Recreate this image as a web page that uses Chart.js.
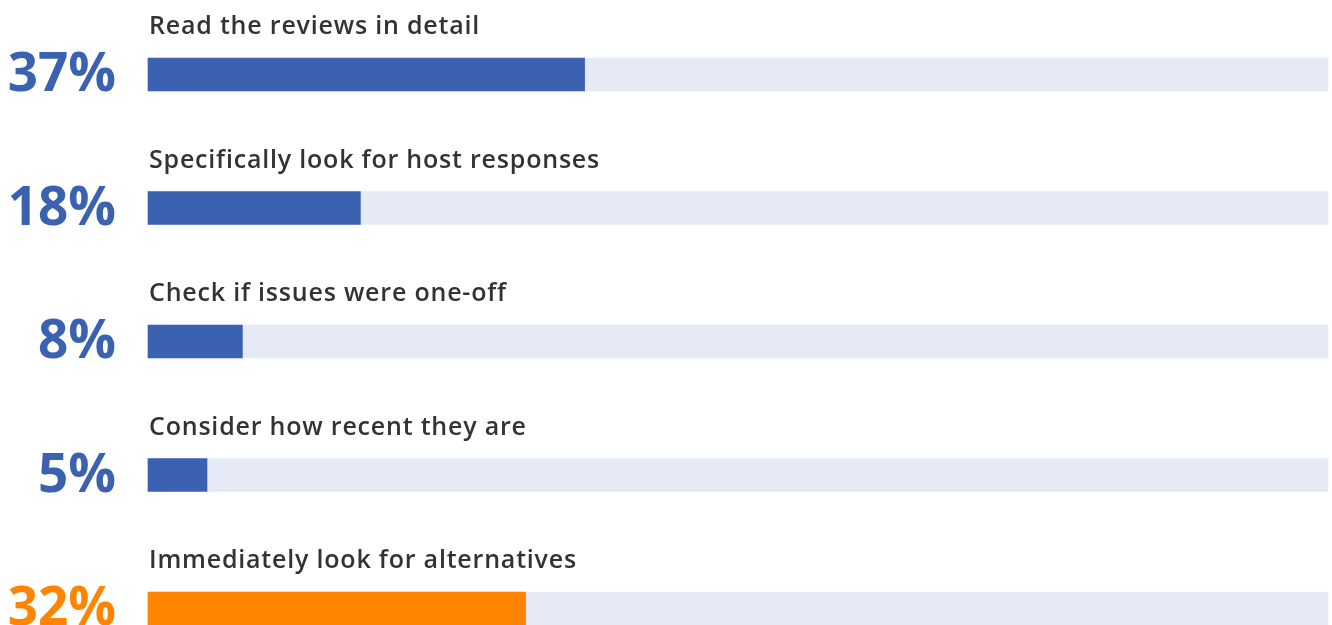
<!DOCTYPE html>
<html>
<head>
<meta charset="utf-8">
<script src="https://cdn.jsdelivr.net/npm/chart.js@4"></script>
<style>
  html, body { margin: 0; padding: 0; background: #fff; }
  .chart-wrap { width: 1332px; height: 625px; position: relative; }
</style>
</head>
<body>
<div class="chart-wrap">
  <canvas id="reviewChart"></canvas>
</div>
<script>
// data
const labels = [
  'Read the reviews in detail',
  'Specifically look for host responses',
  'Check if issues were one-off',
  'Consider how recent they are',
  'Immediately look for alternatives',
];
const values = [37, 18, 8, 5, 32];
const pctLabels = ['37%', '18%', '8%', '5%', '32%'];
const trackValues = [100, 100, 100, 100, 100];

const BLUE = '#3b62b1';
const ORANGE = '#ff8500';
const TRACK = '#e5eaf6';
const barColors = values.map((v, i) => (i === values.length - 1 ? ORANGE : BLUE));

// draws the caption above each bar and the big percentage on the left
const rowText = {
  id: 'rowText',
  afterDatasetsDraw(chart) {
    const ctx = chart.ctx;
    const y = chart.scales.y;
    const x = chart.scales.x;
    const left = x.getPixelForValue(0);
    ctx.save();
    labels.forEach((lbl, i) => {
      const cy = y.getPixelForValue(i);
      const top = cy - 16.5;
      const bottom = cy + 16.5;
      ctx.fillStyle = '#333333';
      ctx.font = '600 25px "Open Sans"';
      ctx.letterSpacing = '0.8px';
      ctx.textAlign = 'left';
      ctx.textBaseline = 'alphabetic';
      ctx.fillText(lbl, left + 1, top - 24);

      ctx.fillStyle = barColors[i];
      ctx.font = 'bold 53px "Open Sans"';
      ctx.letterSpacing = '0px';
      ctx.textAlign = 'right';
      ctx.fillText(pctLabels[i], 116, bottom);
    });
    ctx.restore();
  }
};

new Chart(document.getElementById('reviewChart'), {
  type: 'bar',
  data: {
    labels: labels,
    datasets: [
      {
        data: values,
        backgroundColor: barColors,
        barThickness: 33,
        grouped: false,
        clip: false,
        order: 0,
      },
      {
        data: trackValues,
        backgroundColor: TRACK,
        barThickness: 33,
        grouped: false,
        clip: false,
        order: 1,
      },
    ],
  },
  options: {
    indexAxis: 'y',
    responsive: true,
    maintainAspectRatio: false,
    animation: false,
    layout: { padding: { left: 148, right: 4, top: 74.5, bottom: 16.5 } },
    scales: {
      x: { display: false, min: 0, max: 100 },
      y: { display: false, offset: false },
    },
    plugins: {
      legend: { display: false },
      tooltip: { enabled: false },
    },
  },
  plugins: [rowText],
});
</script>
</body>
</html>
